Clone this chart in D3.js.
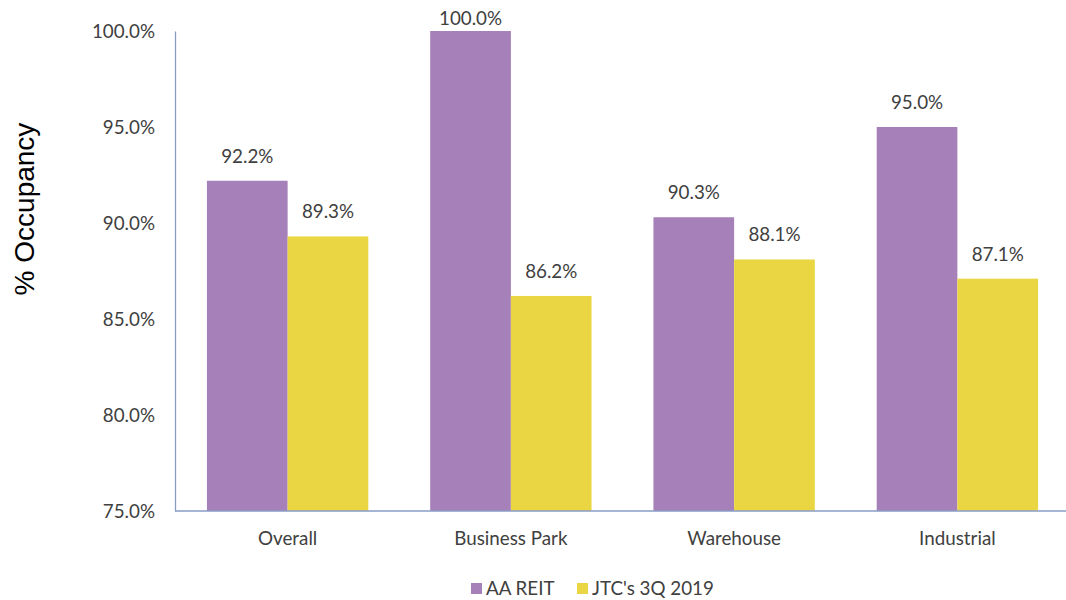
<!DOCTYPE html>
<html><head><meta charset="utf-8">
<script src="https://cdn.jsdelivr.net/npm/d3@7"></script>
<style>body{margin:0;background:#fff}svg{display:block}</style>
</head><body>
<svg id="c" width="1066" height="600"></svg>
<script>
const categories = ["Overall", "Business Park", "Warehouse", "Industrial"];
const seriesNames = ["AA REIT", "JTC's 3Q 2019"];
const aaReit = [92.2, 100.0, 90.3, 95.0];
const jtc = [89.3, 86.2, 88.1, 87.1];
const yTicks = [75, 80, 85, 90, 95, 100];
const colors = ["#A680B8", "#EAD643"];

const svg = d3.select("#c");
const font = "Lato, 'Open Sans', sans-serif";
const fs = 18.8;
const textColor = "#404040";
const axisColor = "#8A9CC6";

const y = d3.scaleLinear().domain([75, 100]).range([511, 31]);
const x0 = d3.scaleBand().domain(categories).range([176, 1069]).padding(0);
const x1 = d3.scaleBand().domain(seriesNames).range([0, x0.bandwidth()]).paddingInner(0).paddingOuter(0.3835);

const data = categories.map((c, i) => ({cat: c, vals: [aaReit[i], jtc[i]]}));

// bars
const g = svg.append("g");
data.forEach(d => {
  d.vals.forEach((v, j) => {
    const sx = x0(d.cat) + x1(seriesNames[j]);
    g.append("rect")
      .attr("x", sx).attr("y", y(v))
      .attr("width", x1.bandwidth()).attr("height", y(75) - y(v))
      .attr("fill", colors[j]);
    g.append("text")
      .attr("x", sx + x1.bandwidth() / 2)
      .attr("y", Math.max(y(v) - 18, 25))
      .attr("text-anchor", "middle")
      .attr("font-family", font).attr("font-size", fs)
      .attr("fill", textColor)
      .text(v.toFixed(1) + "%");
  });
});

// y axis
const yAxis = d3.axisLeft(y).tickValues(yTicks).tickSize(0).tickPadding(20)
  .tickFormat(d => d.toFixed(1) + "%");
const ya = svg.append("g").attr("transform", "translate(175,0)").call(yAxis);
ya.select(".domain").attr("stroke", axisColor).attr("stroke-width", 1.3);
ya.selectAll("text").attr("font-family", font).attr("font-size", fs).attr("fill", textColor);

// x axis
const xAxis = d3.axisBottom(x0).tickSize(0).tickPadding(21);
const xa = svg.append("g").attr("transform", "translate(0,511)").call(xAxis);
xa.select(".domain").attr("stroke", axisColor).attr("stroke-width", 1.3)
  .attr("d", "M175,0H1066");
xa.selectAll("text").attr("font-family", font).attr("font-size", fs).attr("fill", textColor);

// y title
svg.append("text")
  .attr("transform", "translate(34,209) rotate(-90)")
  .attr("text-anchor", "middle")
  .attr("font-family", "'Liberation Sans', Arial, sans-serif")
  .attr("font-size", 28).attr("fill", "#000")
  .text("% Occupancy");

// legend
const legendItems = [{name: seriesNames[0], x: 471}, {name: seriesNames[1], x: 577}];
legendItems.forEach((it, j) => {
  svg.append("rect").attr("x", it.x).attr("y", 583).attr("width", 11).attr("height", 11).attr("fill", colors[j]);
  svg.append("text").attr("x", it.x + 15).attr("y", 595)
    .attr("font-family", font).attr("font-size", fs).attr("fill", textColor)
    .text(it.name);
});
</script>
</body></html>
